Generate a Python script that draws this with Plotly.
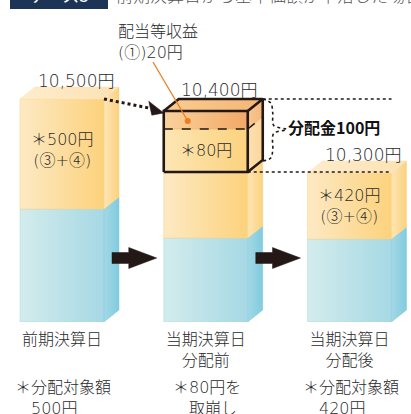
import plotly.graph_objects as go

# ---------------- data (schematic, not to scale) ----------------
categories = ["前期決算日", "当期決算日<br>分配前", "当期決算日<br>分配後"]
nav_labels = ["10,500円", "10,400円", "10,300円"]
inner_labels = ["＊500円<br>(③+④)", "", "＊420円<br>(③+④)"]
note_head = ["＊分配対象額", "＊80円を", "＊分配対象額"]
note_tail = ["500円", "取崩し", "420円"]
base_part = [113, 84, 83]        # light-blue portion (schematic height)
reserve_part = [110, 66, 66]     # orange portion (schematic height)
drawdown_part = 43               # 80円 taken from reserve (box, lower)
income_part = 18                 # 20円 dividend income (box, upper)
drawdown_label = "＊80円"
income_label = "配当等収益<br>(①)20円"
distribution_label = "<b>分配金100円</b>"
title_tag = "ケース3"
title_text = "前期決算日から基準価額が下落した場合"

# ---------------- geometry / style ----------------
PXU = 143.75          # pixels per category step
X0 = 62.0             # pixel of first category
W = 84 / PXU          # bar width
DX = 15 / PXU         # 3D depth (x)
DY = 12               # 3D depth (y)
FONT = "Noto Sans CJK JP"
NUMFONT = "DejaVu Sans, Noto Sans CJK JP"
TXT = "#3c3c3c"
NUMTXT = "#2a2a2a"
INK = "#231815"
PLOT_H = 322

ORANGE_FRONT = ("#fde9c4", "#fcd27c")
ORANGE_SIDE = ("#fde6b5", "#fbd17f")
ORANGE_TOP = ("#fdeccc", "#fde2b4")
BLUE_FRONT = ("#d3ecec", "#a6d8e4")
BLUE_SIDE = ("#a3d8e5", "#80cbe0")
BOX_UP_FRONT = ("#f9d29b", "#f3a867")
BOX_LO_FRONT = ("#fde6b4", "#fbd27e")
BOX_TOP = ("#f9cd92", "#f5b575")
BOX_SIDE_UP = ("#f8c890", "#f6b67c")
BOX_SIDE_LO = ("#fde0b0", "#fcd69a")


def px(p):
    return (p - X0) / PXU


def py(p):
    return PLOT_H - p


def ppaper(p):
    return (PLOT_H - p) / PLOT_H


fig = go.Figure()


def poly(xs, ys, cols):
    fig.add_trace(go.Scatter(
        x=list(xs) + [xs[0]], y=list(ys) + [ys[0]], mode="lines", fill="toself",
        line=dict(width=0.5, color=cols[1]),
        fillgradient=dict(type="horizontal", colorscale=[[0, cols[0]], [1, cols[1]]]),
        hoverinfo="skip", showlegend=False))


def line(xs, ys, color=INK, width=2, dash="solid", shape="linear"):
    fig.add_trace(go.Scatter(x=xs, y=ys, mode="lines",
                             line=dict(color=color, width=width, dash=dash, shape=shape),
                             hoverinfo="skip", showlegend=False))


def block(x0, x1, y0, y1, front, side, top=None):
    poly([x0, x1, x1, x0], [y0, y0, y1, y1], front)
    poly([x1, x1 + DX, x1 + DX, x1], [y0, y0 + DY, y1 + DY, y1], side)
    if top:
        poly([x0, x1, x1 + DX, x0 + DX], [y1, y1, y1 + DY, y1 + DY], top)


tops = []
for i in range(3):
    x0, x1 = i - W / 2, i + W / 2
    b = base_part[i]
    t = b + reserve_part[i]
    tops.append(t)
    block(x0, x1, 0, b, BLUE_FRONT, BLUE_SIDE)
    block(x0, x1, b, t, ORANGE_FRONT, ORANGE_SIDE, ORANGE_TOP if i != 1 else None)

# ---- distribution box on bar 2 ----
bx0, bx1 = 1 - W / 2, 1 + W / 2
bb = tops[1]
bm = bb + drawdown_part
bt = bm + income_part
block(bx0, bx1, bb, bm, BOX_LO_FRONT, BOX_SIDE_LO)
block(bx0, bx1, bm, bt, BOX_UP_FRONT, BOX_SIDE_UP, BOX_TOP)
line([bx0, bx1, None, bx1, bx1 + DX], [bm, bm, None, bm, bm + DY], INK, 1.5, "dash")
line([bx0, bx1, bx1, bx0, bx0, None,
      bx0, bx0 + DX, bx1 + DX, bx1, None,
      bx1 + DX, bx1 + DX, bx1],
     [bb, bb, bt, bt, bb, None,
      bt, bt + DY, bt + DY, bt, None,
      bt + DY, bb + DY, bb], INK, 2.6)

# ---- dotted guide lines ----
line([bx0 + DX, 2 + W / 2], [bt + DY, bt + DY], INK, 1.6, "dot")
line([bx1, 2 + W / 2], [bb, bb], INK, 1.6, "dot")

# dotted arrow from bar 1 top to box
ax0, ay0 = 0 + W / 2, tops[0]
ax1, ay1 = bx0, bt
hx = ax1 - 14 / PXU
hy = ay1 + (ay0 - ay1) * (14 / ((ax1 - ax0) * PXU))
line([ax0, hx], [ay0, hy], INK, 3, "dot")
poly([hx - 1 / PXU, ax1, hx + 2 / PXU], [hy + 7, ay1 - 2, hy - 7], (INK, INK))

# dotted brace
xr = bx1 + DX
ym = (bt + bb) / 2 + DY
line([xr, xr + 8 / PXU, xr + 10 / PXU, xr + 11 / PXU, xr + 24 / PXU,
      xr + 11 / PXU, xr + 10 / PXU, xr + 8 / PXU, xr],
     [bt + DY, bt + DY - 4, bt + DY - 14, ym + 4, ym,
      ym - 4, bb + DY + 10, bb + DY + 2, bb + DY - 1],
     INK, 1.6, "dot", "spline")

# orange leader line from income label
lx, ly = bx0 + 24 / PXU, (bm + bt) / 2 - 1
fig.add_trace(go.Scatter(x=[px(153), lx], y=[py(62), ly], mode="lines",
                         line=dict(color="#ee7d1f", width=1.3),
                         hoverinfo="skip", showlegend=False))
fig.add_trace(go.Scatter(x=[lx], y=[ly], mode="markers",
                         marker=dict(color="#ee7d1f", size=6),
                         hoverinfo="skip", showlegend=False))

# block arrows between bars
for i in range(2):
    s0 = i + W / 2 + 8 / PXU
    s2 = i + 1 - W / 2 - 7 / PXU
    s1 = s2 - 28 / PXU
    yc = py(258)
    poly([s0, s1, s1, s2, s1, s1, s0],
         [yc - 5.5, yc - 5.5, yc - 10.5, yc, yc + 10.5, yc + 5.5, yc + 5.5], (INK, INK))

# ---------------- text ----------------
NF = dict(color=NUMTXT, family=NUMFONT, weight=300)
ann = []
for i in range(3):
    ann.append(dict(x=i + DX / 2 + 6 / PXU, y=tops[i] + DY + 6 if i != 1 else bt + DY + 9,
                    text=nav_labels[i], showarrow=False, font=dict(size=17, **NF)))
    if inner_labels[i]:
        ann.append(dict(x=i, y=base_part[i] + reserve_part[i] / 2 + (4 if i == 0 else 0),
                        text=inner_labels[i], showarrow=False, font=dict(size=16, **NF)))
    ann.append(dict(x=i + 0.01, xref="x", yref="paper", y=ppaper(398),
                    text=note_head[i] + "<br>　" + note_tail[i],
                    align="left", showarrow=False, yanchor="middle",
                    font=dict(size=16, **NF)))
ann.append(dict(x=1, y=(bb + bm) / 2, text=drawdown_label, showarrow=False,
                font=dict(size=16, **NF)))
ann.append(dict(x=px(116), y=py(42), text=income_label, align="left", xanchor="left",
                showarrow=False, font=dict(size=16, **NF)))
ann.append(dict(x=px(286), y=py(127), text=distribution_label, xanchor="left",
                showarrow=False, font=dict(size=16, color="#111111", family=FONT)))
ann.append(dict(x=px(59), yref="paper", y=ppaper(-6), text=title_tag, showarrow=False,
                yanchor="middle", font=dict(size=17, color="white", family=FONT)))
ann.append(dict(x=px(114), yref="paper", y=ppaper(-6), text=title_text, xanchor="left",
                yanchor="middle", showarrow=False,
                font=dict(size=17, color="#555555", family=FONT, weight=300)))

fig.add_shape(type="rect", x0=px(10), x1=px(108), yref="paper", y0=ppaper(9), y1=ppaper(-20),
              fillcolor="#1c3557", line=dict(width=0), layer="below")

fig.update_layout(
    width=411, height=414,
    margin=dict(l=0, r=0, t=0, b=92),
    paper_bgcolor="white", plot_bgcolor="white",
    annotations=ann,
    xaxis=dict(range=[px(0), px(411)], showgrid=False, zeroline=False, showline=False,
               tickmode="array", tickvals=[0, 1, 2], ticktext=categories, ticks="",
               tickfont=dict(size=16, **NF), ticklabelstandoff=6,
               fixedrange=True),
    yaxis=dict(range=[0, PLOT_H], showgrid=False, zeroline=False, showline=False,
               showticklabels=False, fixedrange=True),
    showlegend=False,
)
fig.update_traces(cliponaxis=False)

fig.write_html("out.html")
